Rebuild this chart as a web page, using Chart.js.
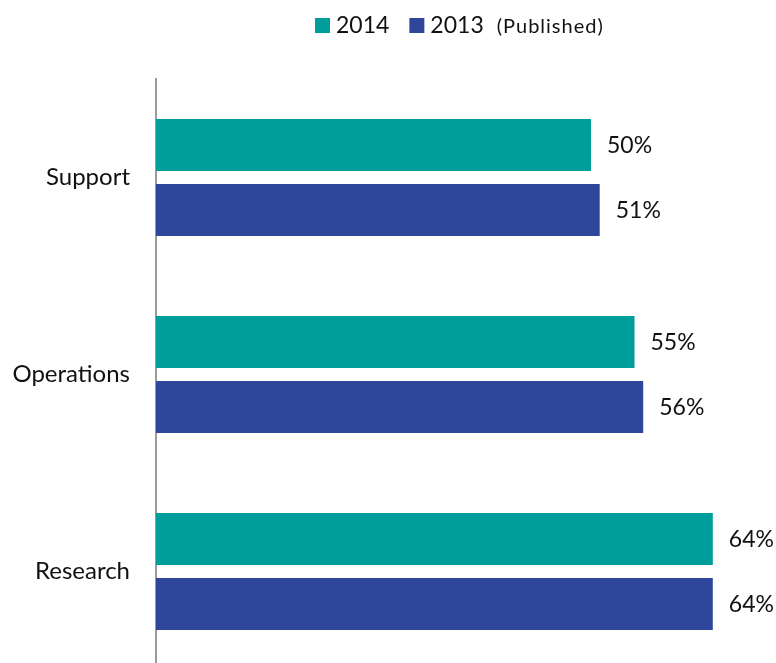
<!DOCTYPE html>
<html>
<head>
<meta charset="utf-8">
<script src="https://cdn.jsdelivr.net/npm/chart.js@4"></script>
<style>
  html, body { margin: 0; padding: 0; overflow: hidden; background: #fff; }
  canvas { display: block; }
</style>
</head>
<body>
<canvas id="chart" width="776" height="680"></canvas>
<script>
// Share of staff by function, two survey years
const categories = ['Support', 'Operations', 'Research'];
const seriesNames = ['2014', '2013'];
const values2014 = [50, 55, 64];
const values2013 = [51, 56, 64];
const legendNote = '(Published)';

const TEAL = '#009e9a';
const NAVY = '#2f479b';
const TEXT = '#111111';
const FONT = 'Lato, "Open Sans", sans-serif';

// Legend row above the plot: colour square + year, then a short note
const topLegend = {
  id: 'topLegend',
  afterDraw(chart) {
    const ctx = chart.ctx;
    const box = 15;
    const midY = 26;
    let x = 315;
    ctx.save();
    ctx.textAlign = 'left';
    ctx.textBaseline = 'middle';
    chart.data.datasets.forEach((ds, i) => {
      ctx.fillStyle = ds.backgroundColor;
      ctx.fillRect(x, midY - 8, box, box);
      x += box + 6;
      ctx.font = '23px ' + FONT;
      ctx.fillStyle = TEXT;
      ctx.fillText(ds.label, x, midY);
      x += ctx.measureText(ds.label).width + (i < chart.data.datasets.length - 1 ? 20 : 13);
    });
    ctx.font = '20px ' + FONT;
    ctx.letterSpacing = '1px';
    ctx.fillText(legendNote, x, midY + 1);
    ctx.restore();
  }
};

// Percentage written to the right of every bar
const barValues = {
  id: 'barValues',
  afterDatasetsDraw(chart) {
    const ctx = chart.ctx;
    ctx.save();
    ctx.font = '23px ' + FONT;
    ctx.fillStyle = TEXT;
    ctx.textAlign = 'left';
    ctx.textBaseline = 'middle';
    chart.data.datasets.forEach((ds, di) => {
      chart.getDatasetMeta(di).data.forEach((bar, i) => {
        ctx.fillText(ds.data[i] + '%', bar.x + 16, bar.y + 1);
      });
    });
    ctx.restore();
  }
};

new Chart(document.getElementById('chart'), {
  type: 'bar',
  data: {
    labels: categories,
    datasets: [
      { label: seriesNames[0], data: values2014, backgroundColor: TEAL },
      { label: seriesNames[1], data: values2013, backgroundColor: NAVY }
    ]
  },
  options: {
    indexAxis: 'y',
    responsive: false,
    devicePixelRatio: 1,
    animation: false,
    categoryPercentage: 0.66,
    barPercentage: 0.8,
    layout: { padding: { left: 0, right: 11, top: 79, bottom: 10 } },
    scales: {
      x: {
        display: false,
        min: 0,
        max: 70
      },
      y: {
        grid: { display: false, drawTicks: false },
        border: { display: true, color: '#9a9a9a', width: 2 },
        ticks: {
          color: TEXT,
          padding: 26,
          font: { family: FONT, size: 24 }
        },
        afterFit(scale) {
          // fixed gutter for the category names; labels sit inside the bands,
          // so no extra room is needed above or below the axis
          scale.width = 156;
          scale.paddingTop = 0;
          scale.paddingBottom = 0;
        }
      }
    },
    plugins: {
      legend: { display: false },
      tooltip: { enabled: false }
    }
  },
  plugins: [topLegend, barValues]
});
</script>
</body>
</html>
